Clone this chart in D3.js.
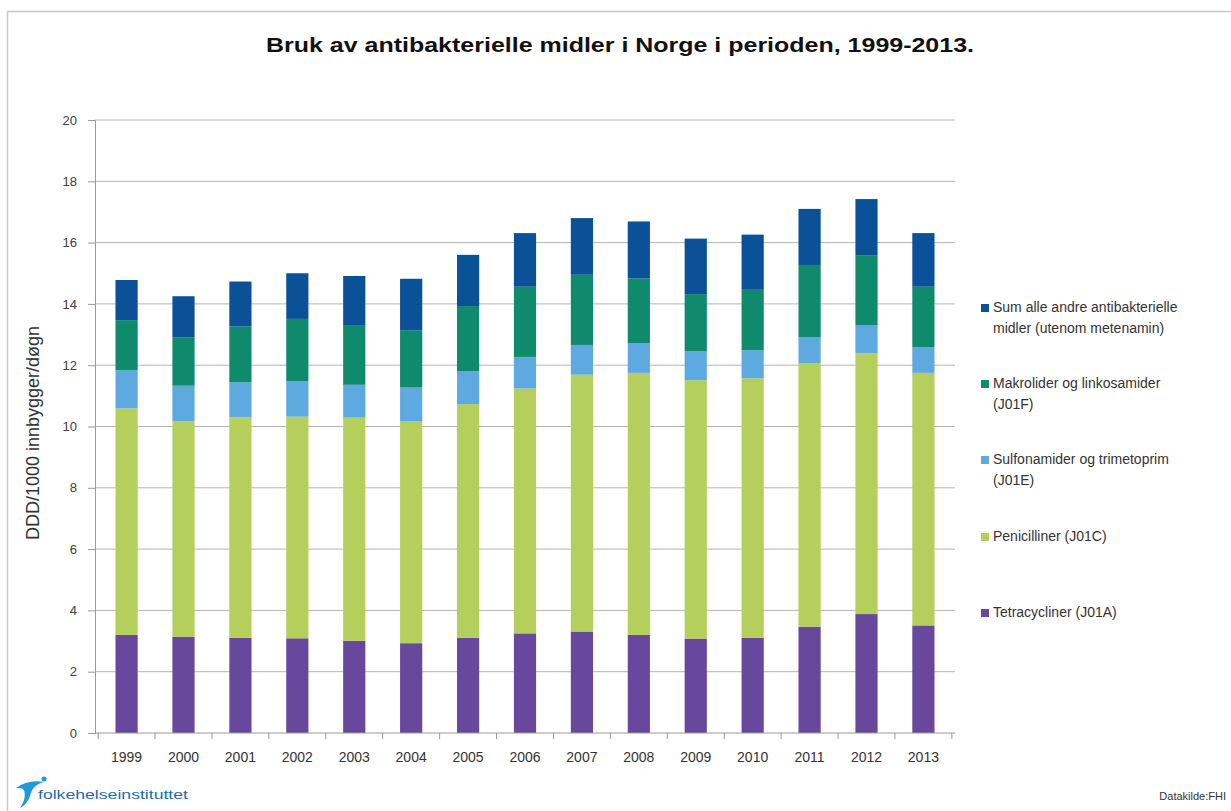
<!DOCTYPE html>
<html>
<head>
<meta charset="utf-8">
<script src="https://cdn.jsdelivr.net/npm/d3@7"></script>
<style>
    body { margin: 0; background: #fff; }
    text { font-family: "Liberation Sans", Arial, sans-serif; }
</style>
</head>
<body>
<div id="chart"></div>
<script>
const width_chart = 1231;
const height_chart = 811;

// data
const years = ["1999", "2000", "2001", "2002", "2003", "2004", "2005", "2006", "2007", "2008", "2009", "2010", "2011", "2012", "2013"];
const tetracycliner = [3.20, 3.14, 3.11, 3.09, 3.01, 2.93, 3.11, 3.25, 3.31, 3.20, 3.08, 3.11, 3.47, 3.88, 3.51];
const penicilliner = [7.39, 7.03, 7.19, 7.23, 7.28, 7.25, 7.62, 7.99, 8.38, 8.55, 8.43, 8.46, 8.60, 8.51, 8.24];
const sulfonamider = [1.25, 1.16, 1.14, 1.16, 1.07, 1.09, 1.07, 1.03, 0.97, 0.97, 0.95, 0.92, 0.85, 0.92, 0.83];
const makrolider = [1.63, 1.57, 1.82, 2.03, 1.95, 1.87, 2.13, 2.29, 2.29, 2.11, 1.86, 1.97, 2.35, 2.28, 1.98];
const andre = [1.31, 1.35, 1.47, 1.49, 1.60, 1.68, 1.67, 1.75, 1.85, 1.86, 1.81, 1.80, 1.83, 1.83, 1.75];
const yTicks = [0, 2, 4, 6, 8, 10, 12, 14, 16, 18, 20];

const series = [
    { key: "tetra", name: ["Tetracycliner (J01A)"], values: tetracycliner, color: "#67489d" },
    { key: "peni", name: ["Penicilliner (J01C)"], values: penicilliner, color: "#b4cf5c" },
    { key: "sulfa", name: ["Sulfonamider og trimetoprim", "(J01E)"], values: sulfonamider, color: "#5ea9e0" },
    { key: "makro", name: ["Makrolider og linkosamider", "(J01F)"], values: makrolider, color: "#0f8a6c" },
    { key: "andre", name: ["Sum alle andre antibakterielle", "midler (utenom metenamin)"], values: andre, color: "#0b5197" }
];

const table = years.map((y, i) => {
    let row = { year: y };
    series.forEach(s => { row[s.key] = s.values[i] });
    return row;
});

let margin = { top: 120, right: 276, bottom: 78, left: 95 },
    width = width_chart - margin.left - margin.right,
    height = height_chart - margin.top - margin.bottom;

const svg = d3.select("#chart").append("svg")
    .attr("width", width_chart)
    .attr("height", height_chart);

// outer frame
svg.append("rect")
    .attr("x", 7.5).attr("y", 11.5)
    .attr("width", width_chart).attr("height", height_chart)
    .attr("fill", "none")
    .attr("stroke", "#c8c8c8")
    .attr("stroke-width", 1.5);

svg.append("text")
    .attr("x", 620).attr("y", 52)
    .attr("text-anchor", "middle")
    .attr("font-size", 21)
    .attr("font-weight", "bold")
    .attr("fill", "#111")
    .attr("textLength", 708)
    .attr("lengthAdjust", "spacingAndGlyphs")
    .text("Bruk av antibakterielle midler i Norge i perioden, 1999-2013.");

const g = svg.append("g")
    .attr("transform", `translate(${margin.left}, ${margin.top})`);

// the scales
let x = d3.scaleBand().domain(years).range([0, width]).paddingInner(0.61).paddingOuter(0.36);
let y = d3.scaleLinear().domain([0, 20]).range([height, 0]);

// grid
g.append("g")
    .selectAll("line")
    .data(yTicks.slice(1))
    .enter()
    .append("line")
    .attr("x1", 0).attr("x2", width)
    .attr("y1", d => y(d)).attr("y2", d => y(d))
    .attr("stroke", "#b4b4b4")
    .attr("stroke-width", 1);

// y axis
let yAxis = g.append("g")
    .call(d3.axisLeft(y).tickValues(yTicks).tickSize(7).tickPadding(11));
yAxis.select(".domain").attr("stroke", "#9a9a9a");
yAxis.selectAll(".tick line").attr("stroke", "#9a9a9a");
yAxis.selectAll("text").attr("font-size", 13).attr("fill", "#404040");

// stacked bars
let stack = d3.stack().keys(series.map(s => s.key));
let layers = stack(table);

g.append("g")
    .selectAll("g")
    .data(layers)
    .enter()
    .append("g")
    .attr("fill", (d, i) => series[i].color)
    .selectAll("rect")
    .data(d => d)
    .enter()
    .append("rect")
    .attr("x", d => x(d.data.year))
    .attr("y", d => y(d[1]))
    .attr("width", x.bandwidth())
    .attr("height", d => y(d[0]) - y(d[1]));

// x axis with ticks between the categories
let xAxis = g.append("g")
    .attr("transform", `translate(0, ${height})`);
xAxis.append("line")
    .attr("x1", 0).attr("x2", width)
    .attr("stroke", "#9a9a9a");
let gap = (x.step() - x.bandwidth()) / 2;
let seps = years.map(d => x(d) - gap).concat([x(years[years.length - 1]) + x.bandwidth() + gap]);
xAxis.selectAll(".sep")
    .data(seps)
    .enter()
    .append("line")
    .attr("x1", d => d).attr("x2", d => d)
    .attr("y1", 0).attr("y2", 6)
    .attr("stroke", "#9a9a9a");
xAxis.selectAll(".lab")
    .data(years)
    .enter()
    .append("text")
    .attr("x", d => x(d) + x.bandwidth() / 2)
    .attr("y", 29)
    .attr("text-anchor", "middle")
    .attr("font-size", 14)
    .attr("fill", "#333")
    .text(d => d);

// y axis title
svg.append("text")
    .attr("transform", "translate(39, 433) rotate(-90)")
    .attr("text-anchor", "middle")
    .attr("font-size", 18)
    .attr("fill", "#333")
    .text("DDD/1000 innbygger/døgn");

// legend, top entry is the top of the stack
const legendY = [312, 388, 464, 541, 617];
let legend = svg.append("g")
    .selectAll("g")
    .data(series.slice().reverse())
    .enter()
    .append("g")
    .attr("transform", (d, i) => `translate(981, ${legendY[i]})`);

legend.append("rect")
    .attr("x", 0).attr("y", -8)
    .attr("width", 8).attr("height", 8)
    .attr("fill", d => d.color);

legend.append("text")
    .attr("x", 12).attr("y", 0)
    .attr("font-size", 14)
    .attr("fill", "#333")
    .selectAll("tspan")
    .data(d => d.name)
    .enter()
    .append("tspan")
    .attr("x", 12)
    .attr("dy", (d, i) => i === 0 ? 0 : 21)
    .text(d => d);

// footer logo and source
let logo = svg.append("g").attr("transform", "translate(14, 780)");
logo.append("path")
    .attr("d", "M2,8 C10,2 20,0 30,2 C22,4 18,8 16,16 C14,22 10,26 6,28 C10,22 12,16 10,10 C8,8 5,8 2,8 Z")
    .attr("fill", "#1f9bd7");
logo.append("circle")
    .attr("cx", 30).attr("cy", -1).attr("r", 2.5)
    .attr("fill", "#1f9bd7");
logo.append("text")
    .attr("x", 24).attr("y", 19)
    .attr("font-size", 13)
    .attr("fill", "#1b6fa8")
    .attr("textLength", 150)
    .attr("lengthAdjust", "spacingAndGlyphs")
    .text("folkehelseinstituttet");

svg.append("text")
    .attr("x", 1226).attr("y", 800)
    .attr("text-anchor", "end")
    .attr("font-size", 11)
    .attr("fill", "#333")
    .text("Datakilde:FHI");
</script>
</body>
</html>
